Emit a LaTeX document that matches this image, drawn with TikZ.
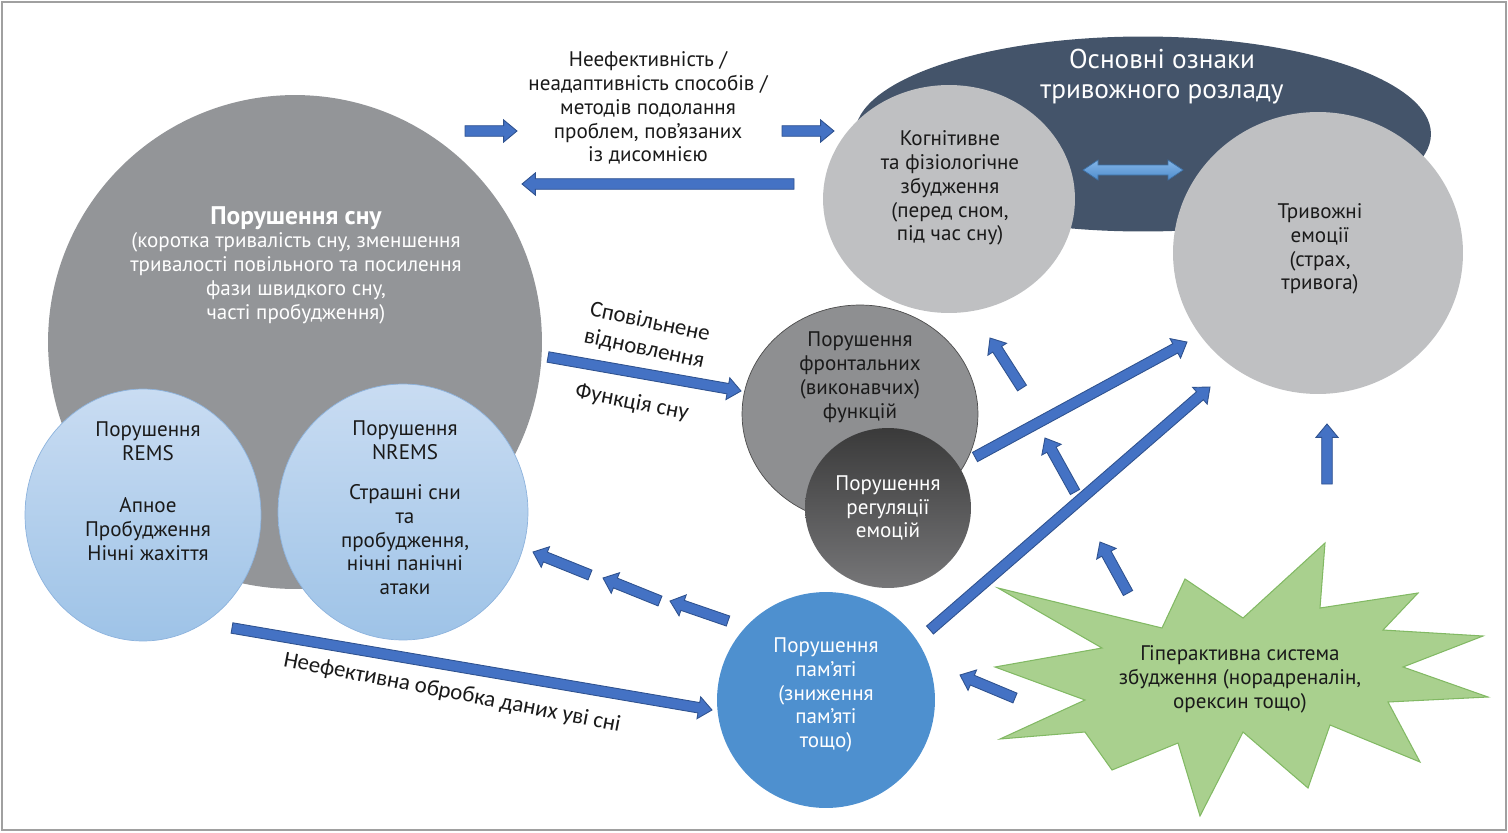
\documentclass[tikz,border=0pt]{standalone}
\usepackage{fontspec}
\setmainfont{PT Sans}
\newfontfamily\arrowfont{Carlito}
\usetikzlibrary{calc,positioning,shapes.geometric}

\definecolor{framegray}{RGB}{160,160,160}
\definecolor{sleepgray}{RGB}{147,149,152}
\definecolor{remstop}{RGB}{201,220,242}
\definecolor{remsbot}{RGB}{158,195,231}
\definecolor{remsedge}{RGB}{141,179,221}
\definecolor{signsnavy}{RGB}{68,84,106}
\definecolor{lightgray}{RGB}{191,192,194}
\definecolor{frontgray}{RGB}{142,143,145}
\definecolor{regtop}{RGB}{58,58,58}
\definecolor{regbot}{RGB}{118,118,120}
\definecolor{memblue}{RGB}{78,144,207}
\definecolor{stargreen}{RGB}{169,208,142}
\definecolor{staredge}{RGB}{130,185,100}
\definecolor{arrowblue}{RGB}{68,114,196}
\definecolor{arrowedge}{RGB}{47,82,143}
\definecolor{dbltop}{RGB}{132,182,232}
\definecolor{dblbot}{RGB}{78,140,205}
\definecolor{textdark}{RGB}{26,26,26}

\newcommand{\shaftw}{3pt}
\newcommand{\headw}{6.3pt}
\newcommand{\headl}{7.6pt}
% block arrow from #2 to #3
\newcommand{\blockarrow}[3][]{%
  \coordinate (bh) at ($(#3)!\headl!(#2)$);
  \filldraw[barrow,#1] ($(#2)!\shaftw!90:(#3)$) -- ($(bh)!\shaftw!90:(#3)$) -- ($(bh)!\headw!90:(#3)$) -- (#3)
    -- ($(bh)!\headw!-90:(#3)$) -- ($(bh)!\shaftw!-90:(#3)$) -- ($(#2)!\shaftw!-90:(#3)$) -- cycle;}

\begin{document}
\begin{tikzpicture}[x=0.02cm, y=-0.02cm,
  every node/.style={font=\fontsize{12}{13.6}\selectfont, align=center, inner sep=0pt},
  blob/.style={ellipse, inner sep=0pt, outer sep=0pt},
  barrow/.style={fill=arrowblue, draw=arrowedge, line width=0.5pt, line join=miter},
  lbl/.style={font=\arrowfont\fontsize{13}{15.5}\selectfont, text=textdark}]
\useasboundingbox (0,0) rectangle (1508,832);
\draw[framegray, line width=1.2pt] (2,2) rectangle (1506,830);

% shapes
\node[blob, fill=sleepgray, minimum width=9.88cm, minimum height=9.88cm] (sleep) at (295,342) {};
\node[blob, top color=remstop, bottom color=remsbot, draw=remsedge, minimum width=4.72cm, minimum height=5.04cm] (rems) at (143,515) {};
\node[blob, top color=remstop, bottom color=remsbot, draw=remsedge, minimum width=5cm, minimum height=5.12cm] (nrems) at (403,512) {};
\node[blob, fill=signsnavy, minimum width=11.52cm, minimum height=3.9cm] (signs) at (1143,134) {};
\node[blob, fill=lightgray, minimum width=5.04cm, minimum height=4.56cm] (cogn) at (949,199) {};
\node[blob, fill=lightgray, minimum width=5.8cm, minimum height=5.64cm] (emo) at (1318,253) {};
\node[blob, fill=frontgray, draw=black!70, line width=0.4pt, minimum width=4.72cm, minimum height=4.36cm] (front) at (860,414) {};
\node[blob, top color=regtop, bottom color=regbot, minimum width=3.32cm, minimum height=3.2cm] (emoreg) at (888,508) {};
\node[blob, fill=memblue, minimum width=4.36cm, minimum height=4.32cm] (memory) at (826,700) {};
\filldraw[fill=stargreen, draw=staredge, line width=0.6pt, line join=miter]
  (998,588) -- (1162,628) -- (1185,579) -- (1243,618) -- (1325,543) -- (1320,608)
  -- (1418,593) -- (1383,630) -- (1483,636) -- (1403,667) -- (1488,697) -- (1388,702)
  -- (1420,762) -- (1330,725) -- (1308,788) -- (1243,732) -- (1200,816) -- (1178,743)
  -- (1112,770) -- (1085,732) -- (1000,739) -- (1085,700) -- (995,667) -- (1102,648) -- cycle;

% texts
\node[text=white, font=\bfseries\fontsize{14.5}{16}\selectfont] (sleeptitle) at (296,218) {Порушення сну};
\node[text=white] (sleeptext) at (296,278) {(коротка тривалість сну, зменшення\\тривалості повільного та посилення\\фази швидкого сну,\\часті пробудження)};
\node[text=textdark] (remstext) at (148,491) {Порушення\\REMS\\[16pt]Апное\\Пробудження\\Нічні жахіття};
\node[text=textdark] (nremstext) at (405,508) {Порушення\\NREMS\\[9pt]Страшні сни\\та\\пробудження,\\нічні панічні\\атаки};
\node[text=white, font=\fontsize{15.5}{17}\selectfont] (signstext) at (1162,77) {Основні ознаки\\тривожного розладу};
\node[text=textdark] (cogntext) at (950,188) {Когнітивне\\та фізіологічне\\збудження\\(перед сном,\\під час сну)};
\node[text=textdark] (emotext) at (1320,249) {Тривожні\\емоції\\(страх,\\тривога)};
\node[text=textdark] (fronttext) at (860,377) {Порушення\\фронтальних\\(виконавчих)\\функцій};
\node[text=white] (emoregtext) at (888,508) {Порушення\\регуляції\\емоцій};
\node[text=white] (memorytext) at (826,695) {Порушення\\пам’яті\\(зниження\\пам’яті\\тощо)};
\node[text=textdark] (arousaltext) at (1240,679) {Гіперактивна система\\збудження (норадреналін,\\орексин тощо)};
\node[text=textdark] (copetext) at (648,108) {Неефективність /\\неадаптивність способів /\\методів подолання\\проблем, пов’язаних\\із дисомнією};
\node[lbl, rotate=-12] (slowtext) at (647,336) {Сповільнене\\відновлення};
\node[lbl, rotate=-11] (functext) at (632,403) {Функція сну};
\node[lbl, rotate=-11] (proctext) at (452,693) {Неефективна обробка даних уві сні};

% arrows
\coordinate (cope1a) at (465,131);  \coordinate (cope1b) at (517,131);
\coordinate (cope2a) at (782,131);  \coordinate (cope2b) at (834,131);
\coordinate (cope3a) at (794,184);  \coordinate (cope3b) at (522,184);
\coordinate (slowa) at (548,357);   \coordinate (slowb) at (741,391);
\coordinate (proca) at (232,628);   \coordinate (procb) at (712,710);
\coordinate (mem1a) at (728,621);   \coordinate (mem1b) at (670,601);
\coordinate (mem2a) at (660,601);   \coordinate (mem2b) at (603,578);
\coordinate (mem3a) at (590,575);   \coordinate (mem3b) at (533,552);
\coordinate (up1a) at (1128,593);   \coordinate (up1b) at (1100,542);
\coordinate (up2a) at (1075,492);   \coordinate (up2b) at (1045,438);
\coordinate (up3a) at (1022,388);   \coordinate (up3b) at (990,338);
\coordinate (fronta) at (975,457);  \coordinate (frontb) at (1187,342);
\coordinate (mema) at (930,630);    \coordinate (memb) at (1210,387);
\coordinate (emoa) at (1327,484);   \coordinate (emob) at (1327,424);
\coordinate (stara) at (1015,698);  \coordinate (starb) at (960,675);
\blockarrow{cope1a}{cope1b}
\blockarrow{cope2a}{cope2b}
\blockarrow{cope3a}{cope3b}
\blockarrow{slowa}{slowb}
\blockarrow{proca}{procb}
\blockarrow{mem1a}{mem1b}
\blockarrow{mem2a}{mem2b}
\blockarrow{mem3a}{mem3b}
\blockarrow{up1a}{up1b}
\blockarrow{up2a}{up2b}
\blockarrow{up3a}{up3b}
\blockarrow{fronta}{frontb}
\blockarrow{mema}{memb}
\blockarrow{emoa}{emob}
\blockarrow{stara}{starb}

% double arrow between the two signs
\coordinate (dblL) at (1083,170);
\coordinate (dblR) at (1183,170);
\path[top color=dbltop, bottom color=dblbot, draw=dblbot!80!black, line width=0.4pt]
  (dblL) -- ++(15,-10) -- ++(0,5) -- ($(dblR)+(-15,-5)$) -- ++(0,-5) -- (dblR)
  -- ++(-15,10) -- ++(0,-5) -- ($(dblL)+(15,5)$) -- ++(0,5) -- cycle;
\end{tikzpicture}
\end{document}
